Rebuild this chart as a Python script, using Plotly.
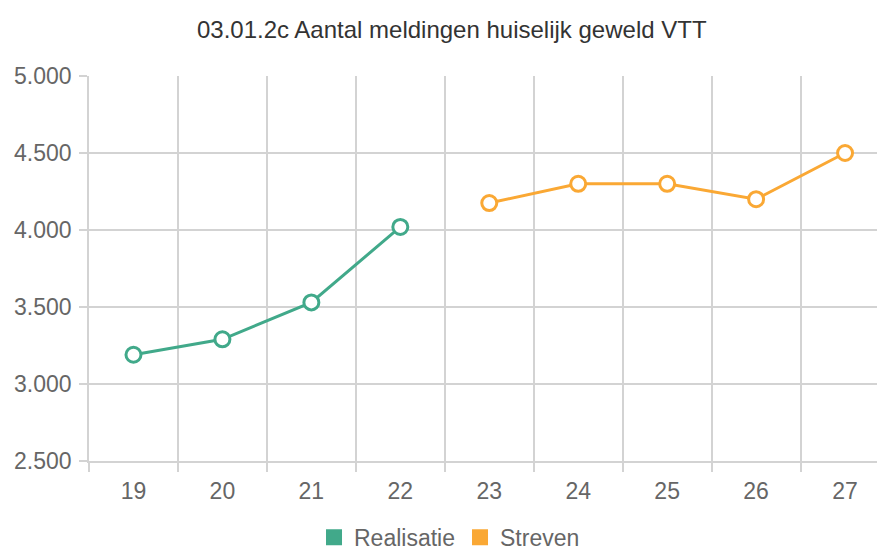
import plotly.graph_objects as go

categories = ["19", "20", "21", "22", "23", "24", "25", "26", "27"]
realisatie = [3190, 3290, 3530, 4020, None, None, None, None, None]
streven = [None, None, None, None, 4175, 4300, 4300, 4200, 4500]
y_ticks = [2500, 3000, 3500, 4000, 4500, 5000]

GREEN = "#41A98A"
ORANGE = "#FAA834"
GRID = "#D3D3D3"
FONT = "Liberation Sans, Arial, sans-serif"

fig = go.Figure()
for name, vals, col in [("Realisatie", realisatie, GREEN), ("Streven", streven, ORANGE)]:
    fig.add_trace(go.Scatter(
        x=categories, y=vals, mode="lines+markers", name=name,
        line=dict(color=col, width=3),
        marker=dict(size=15, color="white", line=dict(color=col, width=3)),
        showlegend=False, legendgroup=name, connectgaps=False,
    ))
    fig.add_trace(go.Scatter(
        x=[None], y=[None], mode="markers", name=name,
        marker=dict(symbol="square", size=16, color=col),
        showlegend=True, legendgroup=name,
    ))

fig.update_layout(
    width=877, height=543,
    margin=dict(l=81, r=0, t=68, b=90, autoexpand=False),
    paper_bgcolor="white", plot_bgcolor="white",
    separators=",.",
    font=dict(family=FONT, color="#666666", size=23),
    title=dict(text="03.01.2c Aantal meldingen huiselijk geweld VTT",
               x=0.506, xanchor="center", xref="container",
               y=1 - 22 / 543, yanchor="middle", yref="container",
               font=dict(size=24, color="#333333", family=FONT)),
    showlegend=True,
    legend=dict(orientation="h", x=0.4529, xanchor="center", xref="paper",
                y=-0.198, yanchor="middle", yref="paper",
                font=dict(size=23, color="#666666"),
                traceorder="normal"),
    xaxis=dict(type="category", categoryorder="array", categoryarray=categories,
               range=[-0.5, 8.449], tickson="boundaries", showgrid=True,
               gridcolor=GRID, gridwidth=1.5, ticks="outside", ticklen=9, tickcolor=GRID,
               tickwidth=1.5, showline=True, linecolor=GRID, linewidth=1.5,
               zeroline=False, automargin=False, ticklabelstandoff=9,
               tickfont=dict(size=23, color="#666666")),
    yaxis=dict(range=[2500, 5000], tickvals=y_ticks, tickformat=",d",
               showgrid=True, gridcolor=GRID, gridwidth=1.5, ticks="outside",
               ticklen=8, tickcolor=GRID, tickwidth=1.5, showline=True,
               linecolor=GRID, linewidth=1.5, zeroline=False, automargin=False,
               ticklabelstandoff=3, tickfont=dict(size=23, color="#666666")),
)

fig.write_html("out.html")
